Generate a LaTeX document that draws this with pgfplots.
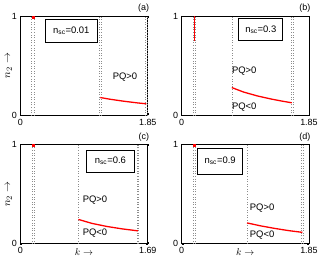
\documentclass[border=0pt]{standalone}
\usepackage{fontspec}
\setmainfont{Liberation Sans}
\usepackage{pgfplots}
\pgfplotsset{compat=1.18}
\usepgfplotslibrary{groupplots}

\newcommand{\nsc}[1]{n\textsubscript{sc}=#1}
\tikzset{nbox/.style={draw, line width=0.8pt, minimum height=24pt, inner sep=2pt, font=\fontsize{9.5}{10}\selectfont},
  pq/.style={font=\fontsize{9.5}{10}\selectfont},
  dl/.style={black!45, dotted, line width=0.6pt}}

\begin{document}
\begin{tikzpicture}[font=\fontsize{9}{10}\selectfont]
\begin{groupplot}[
  group style={group size=2 by 2, horizontal sep=34pt, vertical sep=29pt},
  scale only axis, width=128pt, height=100pt,
  xmin=0, ymin=0, ymax=1, ytick={0,1},
  axis line style={line width=0.8pt},
  tick style={black, line width=0.4pt}, major tick length=2pt,
  /pgf/number format/assume math mode=true,
  clip=false,
  ylabel style={at={(axis description cs:-0.05,0.5)}, anchor=south, inner sep=2pt, font=\fontsize{11}{12}\selectfont},
  xlabel style={at={(axis description cs:0.5,0)}, anchor=north, yshift=-1pt, font=\fontsize{10}{11}\selectfont},
]
% (a)
\nextgroupplot[xmax=1.85, xtick={0,1.85}, xticklabels={0,1.85}, ylabel={$n_2\rightarrow$}]
\path (rel axis cs:-0.16,1.16);
\addplot[dl] coordinates {(0.165,0) (0.165,1)};
\addplot[dl] coordinates {(0.195,0) (0.195,1)};
\addplot[dl] coordinates {(1.145,0) (1.145,1)};
\addplot[dl] coordinates {(1.175,0) (1.175,1)};
\addplot[dl] coordinates {(1.815,0) (1.815,1)};
\addplot[dl] coordinates {(1.84,0) (1.84,1)};
\addplot[red, line width=1.3pt] coordinates {(1.16,0.18) (1.3,0.163) (1.5,0.143) (1.7,0.126) (1.83,0.117)};
\addplot[red, only marks, mark=square*, mark size=1pt] coordinates {(0.18,0.99)};
\node[nbox, minimum width=52pt] at (axis cs:0.74,0.85) {\nsc{0.01}};
\node[pq] at (axis cs:1.52,0.39) {PQ>0};
\node[anchor=south east, inner sep=1pt] at (rel axis cs:1.02,1.02) {(a)};
% (b)
\nextgroupplot[xmax=1.85, xtick={0,1.85}, xticklabels={0,1.85}]
\addplot[dl] coordinates {(0.175,0) (0.175,1)};
\addplot[dl] coordinates {(0.205,0) (0.205,1)};
\addplot[dl] coordinates {(0.73,0) (0.73,1)};
\addplot[dl] coordinates {(1.60,0) (1.60,1)};
\addplot[dl] coordinates {(1.625,0) (1.625,1)};
\addplot[red, line width=1.4pt] coordinates {(0.19,0.75) (0.19,1)};
\addplot[red, line width=1.3pt] coordinates {(0.73,0.28) (0.9,0.235) (1.1,0.196) (1.3,0.165) (1.45,0.145) (1.60,0.127)};
\node[nbox, minimum width=44pt, minimum height=22pt] at (axis cs:1.15,0.865) {\nsc{0.3}};
\node[pq] at (axis cs:0.91,0.45) {PQ>0};
\node[pq] at (axis cs:0.91,0.08) {PQ<0};
\node[anchor=south east, inner sep=1pt] at (rel axis cs:1.02,1.02) {(b)};
% (c)
\nextgroupplot[xmax=1.69, xtick={0,1.69}, xticklabels={0,1.69}, ylabel={$n_2\rightarrow$}, xlabel={$k\rightarrow$}]
\addplot[dl] coordinates {(0.152,0) (0.152,1)};
\addplot[dl] coordinates {(0.18,0) (0.18,1)};
\addplot[dl] coordinates {(0.77,0) (0.77,1)};
\addplot[dl] coordinates {(1.545,0) (1.545,1)};
\addplot[dl] coordinates {(1.57,0) (1.57,1)};
\addplot[red, line width=1.3pt] coordinates {(0.77,0.245) (0.95,0.205) (1.15,0.174) (1.35,0.15) (1.56,0.13)};
\addplot[red, only marks, mark=square*, mark size=1pt] coordinates {(0.166,0.99)};
\node[nbox, minimum width=49pt, minimum height=22pt] at (axis cs:1.195,0.83) {\nsc{0.6}};
\node[pq] at (axis cs:0.99,0.44) {PQ>0};
\node[pq] at (axis cs:0.99,0.11) {PQ<0};
\node[anchor=south east, inner sep=1pt] at (rel axis cs:1.02,1.02) {(c)};
% (d)
\nextgroupplot[xmax=1.85, xtick={0,1.85}, xticklabels={0,1.85}, xlabel={$k\rightarrow$}]
\addplot[dl] coordinates {(0.175,0) (0.175,1)};
\addplot[dl] coordinates {(0.205,0) (0.205,1)};
\addplot[dl] coordinates {(0.95,0) (0.95,1)};
\addplot[dl] coordinates {(1.74,0) (1.74,1)};
\addplot[dl] coordinates {(1.765,0) (1.765,1)};
\addplot[red, line width=1.3pt] coordinates {(0.95,0.21) (1.15,0.18) (1.35,0.155) (1.55,0.133) (1.755,0.115)};
\addplot[red, only marks, mark=square*, mark size=1pt] coordinates {(0.19,0.99)};
\node[nbox, minimum width=45pt, minimum height=26pt] at (axis cs:0.56,0.83) {\nsc{0.9}};
\node[pq] at (axis cs:1.17,0.36) {PQ>0};
\node[pq] at (axis cs:1.17,0.09) {PQ<0};
\node[anchor=south east, inner sep=1pt] at (rel axis cs:1.02,1.02) {(d)};
\end{groupplot}
\end{tikzpicture}
\end{document}
